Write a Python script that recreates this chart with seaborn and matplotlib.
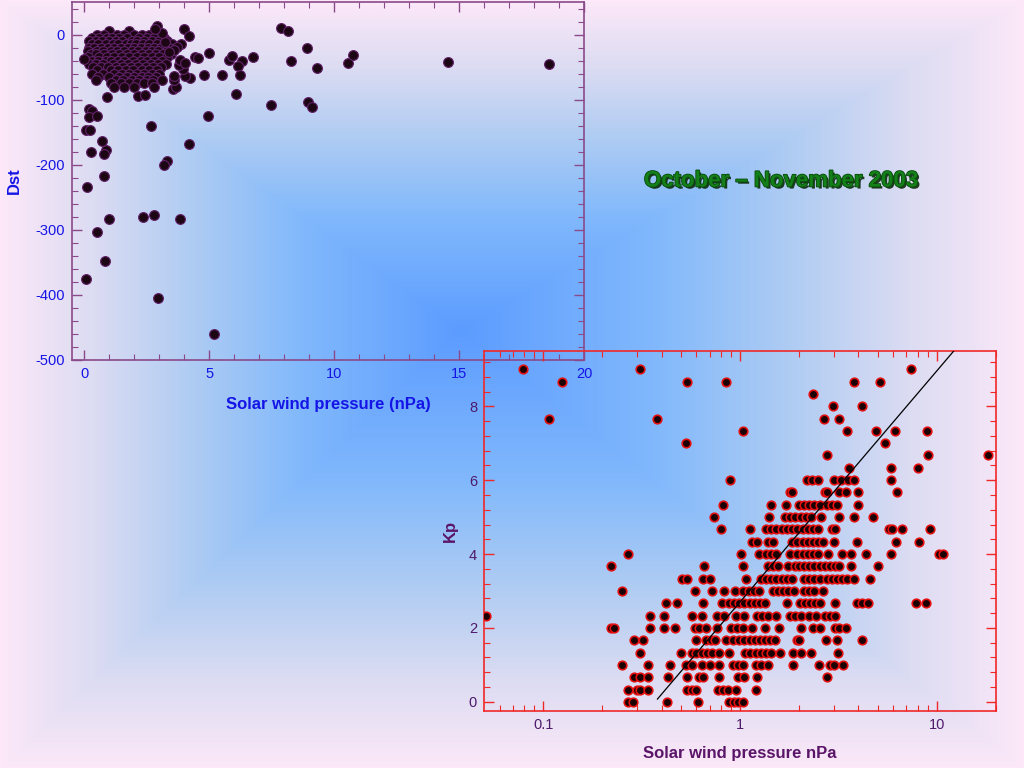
import numpy as np
import pandas as pd
import matplotlib
matplotlib.use('Agg')
import matplotlib.pyplot as plt
import matplotlib.patheffects as pe
from matplotlib.colors import LinearSegmentedColormap
from matplotlib.ticker import MultipleLocator, FixedLocator, NullFormatter
import seaborn as sns

# ---------------- Dst vs solar wind pressure (top left) ----------------
# dense cluster, one list of pressures (nPa) per Dst level (nT)
clu_p05 = [1.0, 1.8]
clu_p00 = [0.5, 0.8, 1.3, 1.6, 2.0, 2.3, 2.6, 3.1]
clu_m05 = [0.3, 0.6, 0.9, 1.1, 1.4, 1.7, 2.2, 2.5, 2.8, 3.2]
clu_m10 = [0.2, 0.45, 0.7, 1.0, 1.25, 1.5, 1.9, 2.1, 2.4, 2.7, 3.0, 3.3]
clu_m15 = [0.3, 0.55, 0.85, 1.15, 1.35, 1.65, 1.85, 2.05, 2.35, 2.6, 2.9, 3.2, 3.5]
clu_m20 = [0.2, 0.4, 0.65, 0.95, 1.2, 1.45, 1.75, 2.0, 2.25, 2.55, 2.8, 3.05, 3.4]
clu_m25 = [0.15, 0.5, 0.75, 1.05, 1.3, 1.6, 1.9, 2.15, 2.45, 2.7, 2.95, 3.3]
clu_m30 = [0.25, 0.45, 0.8, 1.1, 1.4, 1.7, 2.0, 2.3, 2.6, 2.85, 3.15, 3.45]
clu_m35 = [0.15, 0.6, 0.9, 1.2, 1.5, 1.8, 2.1, 2.4, 2.7, 3.0, 3.3]
clu_m40 = [0.3, 0.55, 0.85, 1.05, 1.35, 1.6, 1.95, 2.25, 2.5, 2.8, 3.1]
clu_m45 = [0.2, 0.45, 0.75, 1.15, 1.45, 1.75, 2.05, 2.35, 2.65, 2.95, 3.25]
clu_m50 = [0.35, 0.65, 0.95, 1.25, 1.55, 1.85, 2.15, 2.45, 2.75, 3.05]
clu_m55 = [0.5, 1.05, 1.35, 1.65, 1.95, 2.3, 2.6, 2.9]
clu_m60 = [0.3, 0.75, 1.2, 1.5, 1.8, 2.1, 2.4, 2.7, 3.0]
clu_m65 = [0.55, 1.0, 1.4, 1.7, 2.0, 2.3, 2.55, 2.85]
clu_m70 = [0.45, 1.25, 1.55, 1.9, 2.2, 2.5, 2.75, 3.1]
clu_m75 = [1.05, 1.45, 1.8, 2.1, 2.4, 2.7]
clu_m80 = [1.2, 1.6, 2.0, 2.8]
cluster_levels = [5, 0, -5, -10, -15, -20, -25, -30, -35, -40, -45, -50,
                  -55, -60, -65, -70, -75, -80]
cluster_rows = [clu_p05, clu_p00, clu_m05, clu_m10, clu_m15, clu_m20, clu_m25,
                clu_m30, clu_m35, clu_m40, clu_m45, clu_m50, clu_m55, clu_m60,
                clu_m65, clu_m70, clu_m75, clu_m80]

# scattered points around the cluster
out_pressure = [0.0, 3.97, 4.17, 2.92, 7.86, 8.14, 8.89, 8.25, 9.31, 10.55,
                10.77, 14.54, 18.6, 6.74, 6.32, 6.15, 6.23, 5.51, 4.8, 5.0,
                4.43, 4.55, 5.8, 5.9, 6.05, 7.45, 8.94, 9.11, 4.94, 4.17,
                2.66, 3.31, 3.17, 3.82, 2.77, 2.34, 1.0, 0.51, 0.83, 0.05,
                2.95, 5.18, 0.09, 0.78, 0.85, 0.77, 0.71, 0.28, 0.08, 0.22,
                0.18, 0.32, 0.17, 0.51, 0.91, 2.14, 2.43, 3.54, 3.65, 3.58,
                3.58, 4.23, 4.02, 3.95, 3.78, 3.82, 4.02, 3.85, 3.71, 3.58,
                3.4, 3.23, 3.12, 2.82]
out_dst = [-38, 8, -2, 13, 10, 5, -21, -41, -52, -44,
           -31, -42, -45, -35, -41, -48, -62, -62, -62, -29,
           -34, -36, -39, -33, -92, -108, -103, -112, -125, -168,
           -141, -195, -200, -283, -277, -280, -283, -303, -348, -376,
           -404, -460, -234, -218, -177, -184, -163, -180, -146, -146,
           -115, -117, -126, -125, -96, -94, -93, -83, -81, -70,
           -64, -66, -63, -53, -47, -39, -43, -14, -19, -23,
           -27, -11, 2, 9]

# ---------------- Kp vs solar wind pressure (bottom right) ----------------
# pressures (nPa) observed at each Kp level (0o, 0+, 1-, 1o, ... 9o)
kp_0o = [0.27, 0.285, 0.425, 0.61, 0.88, 0.93, 0.98, 1.03]
kp_0p = [0.27, 0.30, 0.31, 0.34, 0.54, 0.57, 0.60, 0.77, 0.82, 0.87, 0.95, 1.21]
kp_1m = [0.29, 0.31, 0.34, 0.43, 0.54, 0.62, 0.65, 0.78, 0.98, 1.05, 1.22, 2.78]
kp_1o = [0.25, 0.34, 0.44, 0.53, 0.57, 0.64, 0.70, 0.78, 0.92, 0.98, 1.04, 1.20,
         1.28, 1.38, 1.86, 2.52, 2.87, 3.01, 3.35]
kp_1p = [0.31, 0.50, 0.57, 0.60, 0.64, 0.68, 0.72, 0.78, 0.88, 1.06, 1.13, 1.20,
         1.28, 1.36, 1.44, 1.59, 1.85, 2.03, 2.30, 3.13]
kp_2m = [0.29, 0.32, 0.60, 0.67, 0.71, 0.75, 0.85, 0.92, 0.99, 1.05, 1.12, 1.19,
         1.26, 1.34, 1.42, 1.51, 1.95, 1.99, 2.73, 3.11, 4.17]
kp_2o = [0.22, 0.23, 0.35, 0.41, 0.47, 0.59, 0.62, 0.67, 0.76, 0.90, 0.97, 1.03,
         1.15, 1.34, 1.58, 2.04, 2.36, 2.54, 3.05, 3.20, 3.46]
kp_2p = [0.051, 0.35, 0.41, 0.57, 0.64, 0.76, 0.83, 0.95, 1.05, 1.22, 1.30, 1.38,
         1.53, 1.80, 1.91, 2.03, 2.25, 2.44, 2.70, 2.87, 3.05]
kp_3m = [0.42, 0.48, 0.65, 0.81, 0.88, 0.93, 0.99, 1.05, 1.12, 1.19, 1.27, 1.34,
         1.74, 2.01, 2.13, 2.27, 2.41, 2.56, 3.05, 3.94, 4.18, 4.45, 7.84, 8.86]
kp_3o = [0.25, 0.59, 0.72, 0.83, 0.94, 1.04, 1.11, 1.18, 1.25, 1.47, 1.56, 1.66,
         1.76, 1.88, 2.12, 2.25, 2.39, 2.65]
kp_3p = [0.51, 0.54, 0.65, 0.70, 1.07, 1.28, 1.36, 1.44, 1.53, 1.63, 1.73, 1.84,
         2.12, 2.25, 2.39, 2.54, 2.76, 2.93, 3.11, 3.31, 3.51, 3.81, 4.57]
kp_4m = [0.22, 0.66, 1.03, 1.38, 1.47, 1.56, 1.76, 1.91, 1.99, 2.12, 2.25, 2.39,
         2.54, 2.70, 2.87, 3.05, 3.18, 3.66, 5.00]
kp_4o = [0.27, 1.01, 1.25, 1.36, 1.44, 1.53, 1.80, 1.95, 2.08, 2.21, 2.34, 2.49,
         2.81, 3.31, 3.66, 4.39, 5.83, 10.3, 10.7]
kp_4p = [1.15, 1.22, 1.38, 1.47, 1.84, 1.95, 2.08, 2.21, 2.34, 2.49, 2.65, 2.99,
         3.94, 6.20, 8.17]
kp_5m = [0.80, 1.13, 1.36, 1.44, 1.53, 1.63, 1.73, 1.84, 1.95, 2.08, 2.21, 2.34,
         2.49, 2.93, 3.05, 5.72, 5.95, 6.67, 9.22]
kp_5o = [0.74, 1.40, 1.69, 1.80, 1.91, 2.03, 2.16, 2.30, 2.59, 3.18, 3.78, 4.76]
kp_5p = [0.82, 1.43, 1.72, 1.99, 2.12, 2.25, 2.39, 2.54, 2.76, 2.95, 3.11, 4.00]
kp_6m = [1.79, 1.83, 2.70, 2.78, 3.20, 3.46, 4.00, 6.27]
kp_6o = [0.89, 2.18, 2.32, 2.49, 3.01, 3.27, 3.54, 3.81, 5.86]
kp_6p = [3.56, 5.86, 8.07]
kp_7m = [2.78, 9.04, 18.3]
kp_7o = [0.53, 5.47]
kp_7p = [1.03, 3.51, 4.92, 6.12, 8.89]
kp_8m = [0.107, 0.378, 2.67, 3.19]
kp_8o = [2.96, 4.15]
kp_8p = [2.34]
kp_9m = [0.124, 0.54, 0.85, 3.78, 5.17]
kp_9o = [0.079, 0.31, 7.4]
kp_levels = [0, 0.33, 0.67, 1, 1.33, 1.67, 2, 2.33, 2.67, 3, 3.33, 3.67, 4,
             4.33, 4.67, 5, 5.33, 5.67, 6, 6.33, 6.67, 7, 7.33, 7.67, 8, 8.33,
             8.67, 9]
kp_rows = [kp_0o, kp_0p, kp_1m, kp_1o, kp_1p, kp_2m, kp_2o, kp_2p, kp_3m, kp_3o,
           kp_3p, kp_4m, kp_4o, kp_4p, kp_5m, kp_5o, kp_5p, kp_6m, kp_6o, kp_6p,
           kp_7m, kp_7o, kp_7p, kp_8m, kp_8o, kp_8p, kp_9m, kp_9o]

# fitted line Kp = a + b*log10(P)
fit_a = 2.70
fit_b = 6.26
fit_p = [0.38, 12.5]

# build tables
dst_df = pd.concat(
    [pd.DataFrame({'pressure': row, 'dst': lvl}) for lvl, row in zip(cluster_levels, cluster_rows)]
    + [pd.DataFrame({'pressure': out_pressure, 'dst': out_dst})],
    ignore_index=True)
kp_df = pd.concat(
    [pd.DataFrame({'pressure': row, 'kp': lvl}) for lvl, row in zip(kp_levels, kp_rows)],
    ignore_index=True)

sns.set_theme(style='ticks')
plt.rcParams['font.family'] = ['Liberation Sans', 'DejaVu Sans']
plt.rcParams['axes.unicode_minus'] = False

fig = plt.figure(figsize=(10.24, 7.68), dpi=100)

# rectangular gradient background, blue centre fading to pink edges
H, W = 768, 1024
cx, cy = 460, 330
yy, xx = np.mgrid[0:H, 0:W]
tx = np.where(xx < cx, (cx - xx) / cx, (xx - cx) / (W - cx))
ty = np.where(yy < cy, (cy - yy) / cy, (yy - cy) / (H - cy))
t = np.maximum(tx, ty)
bg_cmap = LinearSegmentedColormap.from_list(
    'bg', [(0, '#5c9cff'), (0.35, '#82b9fc'), (0.6, '#b2cdf2'),
           (0.8, '#dcdcf2'), (1.0, '#fce8f8')])
bg = fig.add_axes([0, 0, 1, 1], zorder=0)
bg.imshow(bg_cmap(t), aspect='auto', interpolation='bilinear')
bg.axis('off')

# ---- top chart ----
top_frame = '#8a4a8a'
top_text = '#1414e6'
ax1 = fig.add_axes([72 / 1024, 1 - 360 / 768, 512 / 1024, 358 / 768], zorder=2)
ax1.patch.set_alpha(0)
sns.scatterplot(data=dst_df, x='pressure', y='dst', ax=ax1, s=50,
                color='#1c0614', edgecolor='#62226a', linewidth=0.8,
                legend=False, zorder=3)
ax1.set_xlim(-0.5, 20)
ax1.set_ylim(-500, 50)
ax1.xaxis.set_major_locator(MultipleLocator(5))
ax1.xaxis.set_minor_locator(MultipleLocator(1))
ax1.yaxis.set_major_locator(MultipleLocator(100))
ax1.yaxis.set_minor_locator(MultipleLocator(20))
for sp in ax1.spines.values():
    sp.set_color(top_frame)
    sp.set_linewidth(1.2)
ax1.tick_params(which='both', direction='in', top=True, right=True,
                color=top_frame, labelcolor=top_text, labelsize=10.5)
ax1.tick_params(which='major', length=7, width=1, pad=5)
ax1.tick_params(which='minor', length=4, width=0.8)
ax1.set_xlabel('Solar wind pressure (nPa)', fontsize=12, fontweight='bold', color=top_text)
ax1.set_ylabel('Dst', fontsize=12, fontweight='bold', color=top_text)
ax1.xaxis.set_label_coords(0.5, -0.103)
ax1.yaxis.set_label_coords(-0.098, 0.5)

# ---- bottom chart ----
bot_frame = '#f02828'
bot_text = '#4e1a6a'
ax2 = fig.add_axes([484 / 1024, 1 - 711 / 768, 512 / 1024, 360 / 768], zorder=3)
ax2.patch.set_alpha(0)
ax2.set_xscale('log')
sns.scatterplot(data=kp_df, x='pressure', y='kp', ax=ax2, s=38,
                color='#1a0000', edgecolor='#e41010', linewidth=1.2,
                legend=False, zorder=3)
fit_p_arr = np.array(fit_p)
ax2.plot(fit_p_arr, fit_a + fit_b * np.log10(fit_p_arr), color='black', lw=0.9, zorder=4)
ax2.set_xlim(0.05, 20)
ax2.set_ylim(-0.25, 9.5)
ax2.xaxis.set_major_locator(FixedLocator([0.1, 1, 10]))
ax2.xaxis.set_minor_locator(FixedLocator(
    [0.06, 0.07, 0.08, 0.09] + [k * 0.1 for k in range(2, 10)]
    + list(range(2, 10)) + [20]))
ax2.set_xticklabels(['0.1', '1', '10'])
ax2.xaxis.set_minor_formatter(NullFormatter())
ax2.yaxis.set_major_locator(MultipleLocator(2))
ax2.yaxis.set_minor_locator(MultipleLocator(0.4))
for sp in ax2.spines.values():
    sp.set_color(bot_frame)
    sp.set_linewidth(1.2)
ax2.tick_params(which='both', direction='in', top=True, right=True,
                color=bot_frame, labelcolor=bot_text, labelsize=10.5)
ax2.tick_params(which='major', length=7, width=1, pad=5)
ax2.tick_params(which='minor', length=4, width=0.8)
ax2.set_xlabel('Solar wind pressure nPa', fontsize=12, fontweight='bold', color='#5a1468')
ax2.set_ylabel('Kp', fontsize=12, fontweight='bold', color='#5a1468')
ax2.xaxis.set_label_coords(0.5, -0.097)
ax2.yaxis.set_label_coords(-0.051, 0.5)

# title
fig.text(781 / 1024, 1 - 181 / 768, 'October \u2013 November 2003', ha='center', va='center',
         fontsize=16, fontweight='bold', color='#13801a', zorder=5,
         path_effects=[pe.SimplePatchShadow(offset=(1.5, -1.5), shadow_rgbFace='#0c2a0c', alpha=0.9),
                       pe.Stroke(linewidth=1.2, foreground='#0a4a0a'), pe.Normal()])

plt.savefig('out.png', dpi=100)
plt.close()
